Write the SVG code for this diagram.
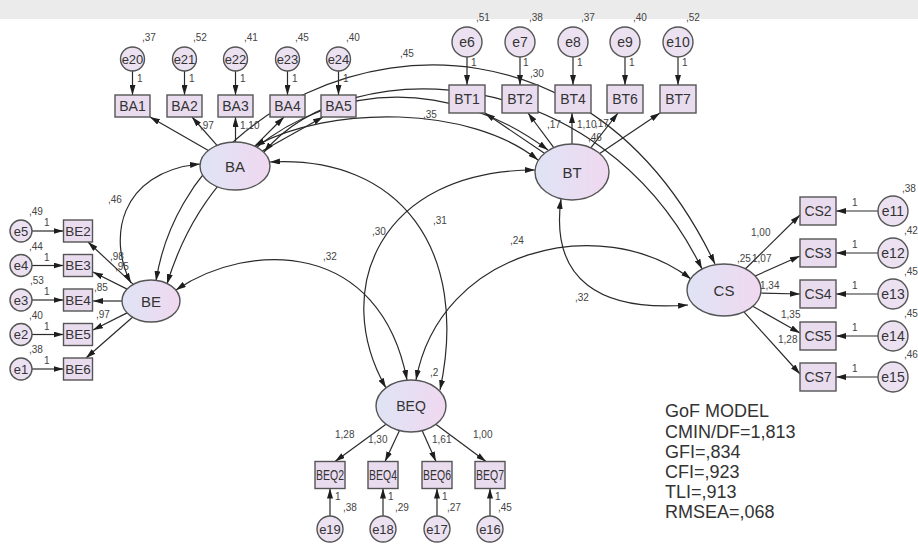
<svg xmlns="http://www.w3.org/2000/svg" width="918" height="545" viewBox="0 0 918 545">
  <defs>
    <linearGradient id="latFill" x1="0" y1="0" x2="1" y2="0">
      <stop offset="0" stop-color="#dfe4f5"/>
      <stop offset="1" stop-color="#f0d8f0"/>
    </linearGradient>
    <marker id="ah" viewBox="0 0 10 6" refX="10" refY="3" markerWidth="10" markerHeight="6" markerUnits="userSpaceOnUse" orient="auto-start-reverse">
      <path d="M0,0 L10,3 L0,6 z" fill="#1e1e1e"/>
    </marker>
    <style>
      .lat { fill: url(#latFill); stroke: #555; stroke-width: 1.4; }
      .obs { fill: #e9dcef; stroke: #555; stroke-width: 1.4; }
      .err { fill: #ebe1f1; stroke: #555; stroke-width: 1.4; }
      .lbl { font-family: "Liberation Sans", Arial, sans-serif; fill: #333; text-anchor: middle; dominant-baseline: central; }
      .num { font-family: "Liberation Sans", Arial, sans-serif; fill: #444; font-size: 10px; }
      .path { fill: none; stroke: #2a2a2a; stroke-width: 1.2; marker-end: url(#ah); }
      .cov { fill: none; stroke: #2a2a2a; stroke-width: 1.2; marker-start: url(#ah); marker-end: url(#ah); }
      .gof { font-family: "Liberation Sans", Arial, sans-serif; fill: #333; font-size: 18px; }
    </style>
  </defs>

  <rect x="0" y="0" width="918" height="545" fill="#ffffff"/>
  <rect x="0" y="0" width="918" height="19" fill="#ebebeb"/>

  <!-- connectors -->
  <g id="connectors">
    <!-- error terms to indicators -->
    <path class="path" d="M132.5,71 L132.5,95"/>
    <path class="path" d="M184.5,71 L184.5,95"/>
    <path class="path" d="M235.5,71 L235.5,95"/>
    <path class="path" d="M287.5,71 L287.5,95"/>
    <path class="path" d="M338.5,71 L338.5,95"/>
    <path class="path" d="M467,57 L467,85"/>
    <path class="path" d="M520,57 L520,85"/>
    <path class="path" d="M573,57 L573,85"/>
    <path class="path" d="M625,57 L625,85"/>
    <path class="path" d="M678,57 L678,85"/>
    <path class="path" d="M32,231 L63.5,231"/>
    <path class="path" d="M32,265.5 L63.5,265.5"/>
    <path class="path" d="M32,300 L63.5,300"/>
    <path class="path" d="M32,334.5 L63.5,334.5"/>
    <path class="path" d="M32,369 L63.5,369"/>
    <path class="path" d="M878,211 L836,211"/>
    <path class="path" d="M878,253 L836,253"/>
    <path class="path" d="M878,294 L836,294"/>
    <path class="path" d="M878,336 L836,336"/>
    <path class="path" d="M878,377 L836,377"/>
    <path class="path" d="M330,516 L330,488.5"/>
    <path class="path" d="M383,516 L383,488.5"/>
    <path class="path" d="M437,516 L437,488.5"/>
    <path class="path" d="M490,516 L490,488.5"/>

    <!-- loadings -->
    <path class="path" d="M208.4,150.4 L150,117"/>
    <path class="path" d="M217,145.4 L192,117"/>
    <path class="path" d="M235.5,142 L235.5,117"/>
    <path class="path" d="M254.8,146.2 L284,117"/>
    <path class="path" d="M262.2,150.9 L323,117"/>
    <path class="path" d="M544.4,153.3 L485,113"/>
    <path class="path" d="M553.8,147.6 L528,113"/>
    <path class="path" d="M572,144 L572,113"/>
    <path class="path" d="M590.8,147.9 L618,113"/>
    <path class="path" d="M599.7,153.4 L660,113"/>
    <path class="path" d="M133.3,284.4 L88,242"/>
    <path class="path" d="M127.1,289.1 L93,272"/>
    <path class="path" d="M122,301 L93,301"/>
    <path class="path" d="M127.1,312.9 L93,330"/>
    <path class="path" d="M132.5,317.2 L86,358"/>
    <path class="path" d="M745.5,268.8 L800,215"/>
    <path class="path" d="M755.2,276 L800,256"/>
    <path class="path" d="M760.5,293 L800,294"/>
    <path class="path" d="M752.8,306.3 L800,333"/>
    <path class="path" d="M743.9,311.9 L800,374"/>
    <path class="path" d="M386,424.2 L335,461.5"/>
    <path class="path" d="M399.5,430.6 L385,461.5"/>
    <path class="path" d="M422.1,430.6 L436,461.5"/>
    <path class="path" d="M435.8,424.3 L486,461.5"/>

    <!-- covariances between latent factors -->
    <path class="cov" d="M131,283 C108,240 118,172 200,164"/>
    <path class="cov" d="M270,162 C400,155 470,250 440,390"/>
    <path class="cov" d="M535,170 C380,170 330,290 386,388"/>
    <path class="cov" d="M176,290 C250,240 380,240 407,380"/>
    <path class="cov" d="M416,380 C440,250 600,210 691,279"/>
    <path class="cov" d="M561,199 C550,280 600,312 688,305"/>
    <path class="cov" d="M156,281 C190,60 560,-60 715,264"/>
    <path class="cov" d="M167,284 C220,110 400,40 548,150"/>
    <path class="cov" d="M255,146 C330,105 470,105 538,160"/>
    <path class="cov" d="M264,152 C350,50 600,60 702,269"/>
  </g>

  <!-- latent factors -->
  <g id="BA"><ellipse class="lat" cx="235" cy="166" rx="35" ry="24"/><text class="lbl" x="235" y="166" font-size="15">BA</text></g>
  <g id="BT"><ellipse class="lat" cx="572" cy="172" rx="37" ry="28"/><text class="lbl" x="572" y="172" font-size="15">BT</text></g>
  <g id="BE"><ellipse class="lat" cx="151" cy="301" rx="29" ry="21"/><text class="lbl" x="151" y="301" font-size="15">BE</text></g>
  <g id="CS"><ellipse class="lat" cx="724" cy="290" rx="37" ry="26"/><text class="lbl" x="724" y="290" font-size="15">CS</text></g>
  <g id="BEQ"><ellipse class="lat" cx="411" cy="406" rx="35" ry="26"/><text class="lbl" x="411" y="406" font-size="14">BEQ</text></g>

  <!-- BA indicators -->
  <g id="BA1"><rect class="obs" x="115" y="95" width="35" height="22"/><text class="lbl" x="132.5" y="106" font-size="14">BA1</text></g>
  <g id="BA2"><rect class="obs" x="167" y="95" width="35" height="22"/><text class="lbl" x="184.5" y="106" font-size="14">BA2</text></g>
  <g id="BA3"><rect class="obs" x="218" y="95" width="35" height="22"/><text class="lbl" x="235.5" y="106" font-size="14">BA3</text></g>
  <g id="BA4"><rect class="obs" x="270" y="95" width="35" height="22"/><text class="lbl" x="287.5" y="106" font-size="14">BA4</text></g>
  <g id="BA5"><rect class="obs" x="321" y="95" width="35" height="22"/><text class="lbl" x="338.5" y="106" font-size="14">BA5</text></g>

  <!-- BT indicators -->
  <g id="BT1"><rect class="obs" x="449" y="85" width="36" height="28"/><text class="lbl" x="467" y="99" font-size="14">BT1</text></g>
  <g id="BT2"><rect class="obs" x="502" y="85" width="36" height="28"/><text class="lbl" x="520" y="99" font-size="14">BT2</text></g>
  <g id="BT4"><rect class="obs" x="555" y="85" width="36" height="28"/><text class="lbl" x="573" y="99" font-size="14">BT4</text></g>
  <g id="BT6"><rect class="obs" x="607" y="85" width="36" height="28"/><text class="lbl" x="625" y="99" font-size="14">BT6</text></g>
  <g id="BT7"><rect class="obs" x="660" y="85" width="36" height="28"/><text class="lbl" x="678" y="99" font-size="14">BT7</text></g>

  <!-- BE indicators -->
  <g id="BE2"><rect class="obs" x="63.5" y="220" width="29" height="22"/><text class="lbl" x="78" y="231" font-size="13.5">BE2</text></g>
  <g id="BE3"><rect class="obs" x="63.5" y="254.5" width="29" height="22"/><text class="lbl" x="78" y="265.5" font-size="13.5">BE3</text></g>
  <g id="BE4"><rect class="obs" x="63.5" y="289" width="29" height="22"/><text class="lbl" x="78" y="300" font-size="13.5">BE4</text></g>
  <g id="BE5"><rect class="obs" x="63.5" y="323.5" width="29" height="22"/><text class="lbl" x="78" y="334.5" font-size="13.5">BE5</text></g>
  <g id="BE6"><rect class="obs" x="63.5" y="358" width="29" height="22"/><text class="lbl" x="78" y="369" font-size="13.5">BE6</text></g>

  <!-- CS indicators -->
  <g id="CS2"><rect class="obs" x="800" y="197" width="36" height="28"/><text class="lbl" x="818" y="211" font-size="14">CS2</text></g>
  <g id="CS3"><rect class="obs" x="800" y="239" width="36" height="28"/><text class="lbl" x="818" y="253" font-size="14">CS3</text></g>
  <g id="CS4"><rect class="obs" x="800" y="280" width="36" height="28"/><text class="lbl" x="818" y="294" font-size="14">CS4</text></g>
  <g id="CS5"><rect class="obs" x="800" y="322" width="36" height="28"/><text class="lbl" x="818" y="336" font-size="14">CS5</text></g>
  <g id="CS7"><rect class="obs" x="800" y="363" width="36" height="28"/><text class="lbl" x="818" y="377" font-size="14">CS7</text></g>

  <!-- BEQ indicators -->
  <g id="BEQ2"><rect class="obs" x="315" y="461.5" width="30" height="27"/><text class="lbl" x="330" y="475" font-size="14" textLength="28" lengthAdjust="spacingAndGlyphs">BEQ2</text></g>
  <g id="BEQ4"><rect class="obs" x="368" y="461.5" width="30" height="27"/><text class="lbl" x="383" y="475" font-size="14" textLength="28" lengthAdjust="spacingAndGlyphs">BEQ4</text></g>
  <g id="BEQ6"><rect class="obs" x="422" y="461.5" width="30" height="27"/><text class="lbl" x="437" y="475" font-size="14" textLength="28" lengthAdjust="spacingAndGlyphs">BEQ6</text></g>
  <g id="BEQ7"><rect class="obs" x="475" y="461.5" width="30" height="27"/><text class="lbl" x="490" y="475" font-size="14" textLength="28" lengthAdjust="spacingAndGlyphs">BEQ7</text></g>

  <!-- error terms -->
  <g id="e20"><circle class="err" cx="132.5" cy="59" r="12"/><text class="lbl" x="132.5" y="59" font-size="13">e20</text></g>
  <g id="e21"><circle class="err" cx="184.5" cy="59" r="12"/><text class="lbl" x="184.5" y="59" font-size="13">e21</text></g>
  <g id="e22"><circle class="err" cx="235.5" cy="59" r="12"/><text class="lbl" x="235.5" y="59" font-size="13">e22</text></g>
  <g id="e23"><circle class="err" cx="287.5" cy="59" r="12"/><text class="lbl" x="287.5" y="59" font-size="13">e23</text></g>
  <g id="e24"><circle class="err" cx="338.5" cy="59" r="12"/><text class="lbl" x="338.5" y="59" font-size="13">e24</text></g>
  <g id="e6"><circle class="err" cx="467" cy="42" r="15"/><text class="lbl" x="467" y="42" font-size="14">e6</text></g>
  <g id="e7"><circle class="err" cx="520" cy="42" r="15"/><text class="lbl" x="520" y="42" font-size="14">e7</text></g>
  <g id="e8"><circle class="err" cx="573" cy="42" r="15"/><text class="lbl" x="573" y="42" font-size="14">e8</text></g>
  <g id="e9"><circle class="err" cx="625" cy="42" r="15"/><text class="lbl" x="625" y="42" font-size="14">e9</text></g>
  <g id="e10"><circle class="err" cx="678" cy="42" r="15"/><text class="lbl" x="678" y="42" font-size="14">e10</text></g>
  <g id="e5"><circle class="err" cx="21" cy="231" r="11"/><text class="lbl" x="21" y="231" font-size="13">e5</text></g>
  <g id="e4"><circle class="err" cx="21" cy="265.5" r="11"/><text class="lbl" x="21" y="265.5" font-size="13">e4</text></g>
  <g id="e3"><circle class="err" cx="21" cy="300" r="11"/><text class="lbl" x="21" y="300" font-size="13">e3</text></g>
  <g id="e2"><circle class="err" cx="21" cy="334.5" r="11"/><text class="lbl" x="21" y="334.5" font-size="13">e2</text></g>
  <g id="e1"><circle class="err" cx="21" cy="369" r="11"/><text class="lbl" x="21" y="369" font-size="13">e1</text></g>
  <g id="e11"><circle class="err" cx="893" cy="211" r="15"/><text class="lbl" x="893" y="211" font-size="14">e11</text></g>
  <g id="e12"><circle class="err" cx="893" cy="253" r="15"/><text class="lbl" x="893" y="253" font-size="14">e12</text></g>
  <g id="e13"><circle class="err" cx="893" cy="294" r="15"/><text class="lbl" x="893" y="294" font-size="14">e13</text></g>
  <g id="e14"><circle class="err" cx="893" cy="336" r="15"/><text class="lbl" x="893" y="336" font-size="14">e14</text></g>
  <g id="e15"><circle class="err" cx="893" cy="377" r="15"/><text class="lbl" x="893" y="377" font-size="14">e15</text></g>
  <g id="e19"><circle class="err" cx="330" cy="529" r="13"/><text class="lbl" x="330" y="529" font-size="13">e19</text></g>
  <g id="e18"><circle class="err" cx="383" cy="529" r="13"/><text class="lbl" x="383" y="529" font-size="13">e18</text></g>
  <g id="e17"><circle class="err" cx="437" cy="529" r="13"/><text class="lbl" x="437" y="529" font-size="13">e17</text></g>
  <g id="e16"><circle class="err" cx="490" cy="529" r="13"/><text class="lbl" x="490" y="529" font-size="13">e16</text></g>

  <!-- estimates -->
  <g id="estimates">
    <!-- variances -->
    <text class="num" x="142" y="41">,37</text>
    <text class="num" x="193" y="41">,52</text>
    <text class="num" x="244" y="41">,41</text>
    <text class="num" x="295" y="41">,45</text>
    <text class="num" x="346" y="41">,40</text>
    <text class="num" x="476" y="21">,51</text>
    <text class="num" x="529" y="21">,38</text>
    <text class="num" x="581" y="21">,37</text>
    <text class="num" x="633" y="21">,40</text>
    <text class="num" x="686" y="21">,52</text>
    <text class="num" x="29" y="215">,49</text>
    <text class="num" x="29" y="249.5">,44</text>
    <text class="num" x="30" y="284">,53</text>
    <text class="num" x="29" y="318.5">,40</text>
    <text class="num" x="29" y="353">,38</text>
    <text class="num" x="902" y="192">,38</text>
    <text class="num" x="904" y="234">,42</text>
    <text class="num" x="904" y="275">,45</text>
    <text class="num" x="904" y="317">,45</text>
    <text class="num" x="904" y="358">,46</text>
    <text class="num" x="343" y="511">,38</text>
    <text class="num" x="395" y="511">,29</text>
    <text class="num" x="447" y="511">,27</text>
    <text class="num" x="498" y="511">,45</text>
    <!-- fixed paths -->
    <text class="num" x="137" y="82">1</text>
    <text class="num" x="189" y="82">1</text>
    <text class="num" x="240" y="82">1</text>
    <text class="num" x="292" y="82">1</text>
    <text class="num" x="343" y="82">1</text>
    <text class="num" x="471" y="66">1</text>
    <text class="num" x="523" y="66">1</text>
    <text class="num" x="577" y="66">1</text>
    <text class="num" x="629" y="66">1</text>
    <text class="num" x="682" y="66">1</text>
    <text class="num" x="44" y="226">1</text>
    <text class="num" x="44" y="260.5">1</text>
    <text class="num" x="44" y="295">1</text>
    <text class="num" x="44" y="329.5">1</text>
    <text class="num" x="44" y="364">1</text>
    <text class="num" x="852" y="206">1</text>
    <text class="num" x="852" y="248">1</text>
    <text class="num" x="852" y="289">1</text>
    <text class="num" x="852" y="331">1</text>
    <text class="num" x="852" y="372">1</text>
    <text class="num" x="335" y="500">1</text>
    <text class="num" x="388" y="500">1</text>
    <text class="num" x="442" y="500">1</text>
    <text class="num" x="495" y="500">1</text>
    <!-- loadings -->
    <text class="num" x="200" y="129">,97</text>
    <text class="num" x="240" y="129">1,10</text>
    <text class="num" x="530" y="77">,30</text>
    <text class="num" x="547" y="128">,17</text>
    <text class="num" x="577" y="128">1,10</text>
    <text class="num" x="595" y="127">,17</text>
    <text class="num" x="588" y="141">,46</text>
    <text class="num" x="110" y="260">,98</text>
    <text class="num" x="115" y="270">,95</text>
    <text class="num" x="94" y="291">,85</text>
    <text class="num" x="96" y="318">,97</text>
    <text class="num" x="751" y="236">1,00</text>
    <text class="num" x="737" y="262">,25</text>
    <text class="num" x="752" y="262">1,07</text>
    <text class="num" x="760" y="289">1,34</text>
    <text class="num" x="781" y="318">1,35</text>
    <text class="num" x="778" y="343">1,28</text>
    <text class="num" x="335" y="438">1,28</text>
    <text class="num" x="368" y="443">1,30</text>
    <text class="num" x="432" y="443">1,61</text>
    <text class="num" x="473" y="438">1,00</text>
    <!-- correlations -->
    <text class="num" x="108" y="203">,46</text>
    <text class="num" x="400" y="57">,45</text>
    <text class="num" x="423" y="118">,35</text>
    <text class="num" x="433" y="224">,31</text>
    <text class="num" x="372" y="235">,30</text>
    <text class="num" x="323" y="260">,32</text>
    <text class="num" x="510" y="244">,24</text>
    <text class="num" x="575" y="301">,32</text>
    <text class="num" x="430" y="376">,2</text>
  </g>

  <!-- fit indices -->
  <g id="gof">
    <text class="gof" x="665" y="417">GoF MODEL</text>
    <text class="gof" x="665" y="438">CMIN/DF=1,813</text>
    <text class="gof" x="665" y="458">GFI=,834</text>
    <text class="gof" x="665" y="478">CFI=,923</text>
    <text class="gof" x="665" y="498">TLI=,913</text>
    <text class="gof" x="665" y="518">RMSEA=,068</text>
  </g>
</svg>
